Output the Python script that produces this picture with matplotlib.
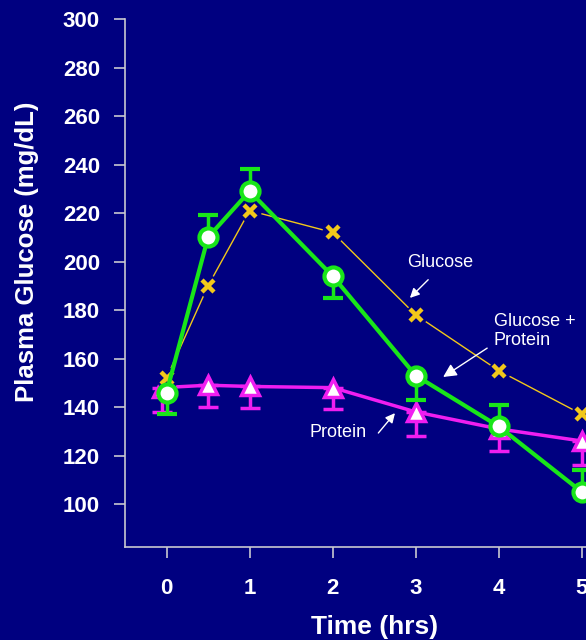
import numpy as np
import matplotlib
matplotlib.use('Agg')
import matplotlib.pyplot as plt

# Время отбора проб, ч
t = [0, 0.5, 1, 2, 3, 4, 5]
t_protein = [-0.06, 0.5, 1, 2, 3, 4, 5]

# Глюкоза плазмы, мг/дл
glucose = [152, 190, 221, 212, 178, 155, 137]
gluc_prot = [146, 210, 229, 194, 153, 132, 105]
gluc_prot_lo = [9, 0, 0, 9, 10, 0, 0]
gluc_prot_hi = [0, 9, 9, 0, 0, 9, 9]
protein = [148, 149, 148.5, 148, 138, 131, 126]
protein_lo = [10, 9, 9, 9, 10, 9, 10]

bg = '#000080'
axis_col = '#C8C8D0'
green = '#19E619'
yellow = '#F2C81A'
magenta = '#F01EF0'

plt.rcParams['font.family'] = ['Liberation Sans', 'DejaVu Sans']

fig = plt.figure(figsize=(5.86, 6.40), dpi=100, facecolor=bg)
ax = fig.add_axes([125 / 586, 1 - 547 / 640, 461 / 586, 528 / 640])
ax.set_facecolor(bg)

# Белок
ax.errorbar(t_protein, protein, yerr=[protein_lo, [0] * 7], color=magenta,
            lw=2.5, elinewidth=2.5, capsize=7, capthick=2.5,
            marker='^', ms=13, mfc='white', mec=magenta, mew=2.5,
            zorder=2, clip_on=False)

# Глюкоза: тонкая линия с разрывами у маркеров
ax.plot(t, glucose, color=yellow, lw=1, zorder=3, clip_on=False)
ax.plot(t, glucose, ls='none', marker='o', ms=15, mfc=bg, mec=bg,
        zorder=3.1, clip_on=False)
ax.plot(t, glucose, ls='none', marker='x', ms=8, mec=yellow, mew=3.2,
        zorder=3.2, clip_on=False)

# Глюкоза + белок
ax.errorbar(t, gluc_prot, yerr=[gluc_prot_lo, gluc_prot_hi], color=green,
            lw=3, elinewidth=2.5, capsize=7, capthick=2.5,
            marker='o', ms=13, mfc='white', mec=green, mew=3,
            zorder=4, clip_on=False)

ax.set_xlim(-0.5, 5.05)
ax.set_ylim(82.3, 300)
ax.set_xticks(range(6))
ax.set_yticks(np.arange(100, 301, 20))

for side in ['top', 'right']:
    ax.spines[side].set_visible(False)
for side in ['left', 'bottom']:
    ax.spines[side].set_color(axis_col)
    ax.spines[side].set_linewidth(1.2)

ax.tick_params(axis='both', colors=axis_col, length=8, width=1.2,
               labelcolor='white', labelsize=16)
ax.tick_params(axis='x', pad=14)
ax.tick_params(axis='y', pad=10)
for lab in ax.get_xticklabels() + ax.get_yticklabels():
    lab.set_fontweight('bold')

ax.set_xlabel('Time (hrs)', color='white', fontsize=19, fontweight='bold',
              va='center')
ax.xaxis.set_label_coords(0.542, -0.152)
ax.set_ylabel('Plasma Glucose (mg/dL)', color='white', fontsize=18.5,
              fontweight='bold', va='center')
ax.yaxis.set_label_coords(-0.212, 0.56)

arrow = dict(arrowstyle='-|>', color='white', lw=1, mutation_scale=14,
             shrinkA=0, shrinkB=0)
ax.text(3.29, 199.5, 'Glucose', color='white', fontsize=13,
        ha='center', va='center')
ax.annotate('', xy=(2.93, 185), xytext=(3.15, 192.5), arrowprops=arrow)

ax.text(3.94, 171.3, 'Glucose +\nProtein', color='white', fontsize=13,
        ha='left', va='center', linespacing=1.2)
ax.annotate('', xy=(3.33, 152.4), xytext=(3.86, 164.3),
            arrowprops=dict(arrow, mutation_scale=20))

ax.text(2.06, 129.7, 'Protein', color='white', fontsize=13,
        ha='center', va='center')
ax.annotate('', xy=(2.75, 137.5), xytext=(2.55, 129.3), arrowprops=arrow)

fig.savefig('out.png', dpi=100, facecolor=bg)
